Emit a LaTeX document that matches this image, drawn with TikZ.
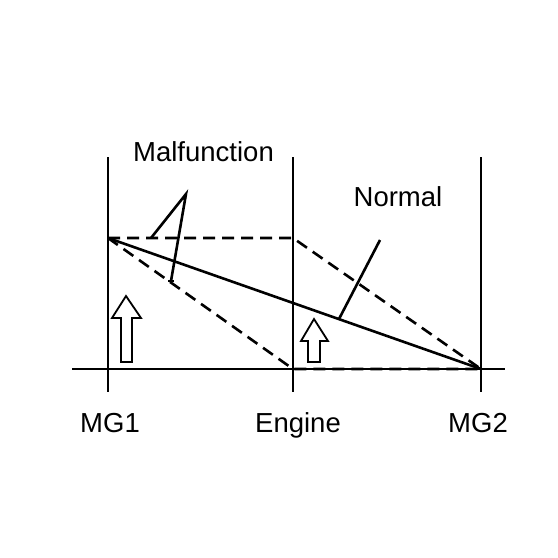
\documentclass[tikz,border=0pt]{standalone}
\usepackage{fontspec}
\setmainfont{Liberation Sans}
\usetikzlibrary{calc}
\begin{document}
\begin{tikzpicture}[x=1pt,y=-1pt,
  ln/.style={line width=2.6pt},
  dsh/.style={line width=2.6pt,dash pattern=on 12pt off 7pt},
  lbl/.style={font=\fontsize{27.5}{31}\selectfont,anchor=base,inner sep=0pt},
  bigarrow/.style={draw,line width=1.8pt,fill=white,line join=miter}]
\useasboundingbox (0,0) rectangle (558,558);
% coordinates
\coordinate (v1t) at (108,157); \coordinate (v1b) at (108,392);
\coordinate (v2t) at (293,157); \coordinate (v2b) at (293,392);
\coordinate (v3t) at (481,157); \coordinate (v3b) at (481,392);
\coordinate (axl) at (72,369); \coordinate (axr) at (505,369);
\coordinate (A) at (108,238);
\coordinate (B) at (293,238);
\coordinate (C) at (293,369);
\coordinate (D) at (481,369);
% axes
\draw[ln] (v1t) -- (v1b);
\draw[ln] (v2t) -- (v2b);
\draw[ln] (v3t) -- (v3b);
\draw[ln] (axl) -- (axr);
% dashed lines
\draw[dsh] (A) -- (B) -- (D);
\draw[dsh] (A) -- (C) -- (D);
% solid line
\draw[ln] (A) -- (D);
% leaders
\coordinate (m1) at (151,238);
\coordinate (m2) at (186,194);
\coordinate (m3) at (171,281);
\draw[ln,line join=miter] (m1) -- (m2) -- (m3);
\draw[ln] ($(m3)+(-3,0)$) -- ($(m3)+(3,0)$);
\coordinate (n1) at (380,240);
\coordinate (n2) at (339,319);
\draw[ln] (n1) -- (n2);
% hollow arrows
\draw[bigarrow] (126,296) -- (141,318) -- (132,318) -- (132,362) -- (121,362) -- (121,318) -- (112,318) -- cycle;
\draw[bigarrow] (314,319) -- (328,341) -- (320,341) -- (320,362) -- (308,362) -- (308,341) -- (301,341) -- cycle;
% labels
\node[lbl] (tmal) at (203.5,161) {Malfunction};
\node[lbl] (tnor) at (398,206) {Normal};
\node[lbl] (tmg1) at (110,432) {MG1};
\node[lbl] (teng) at (298,432) {Engine};
\node[lbl] (tmg2) at (478,432) {MG2};
\end{tikzpicture}
\end{document}
